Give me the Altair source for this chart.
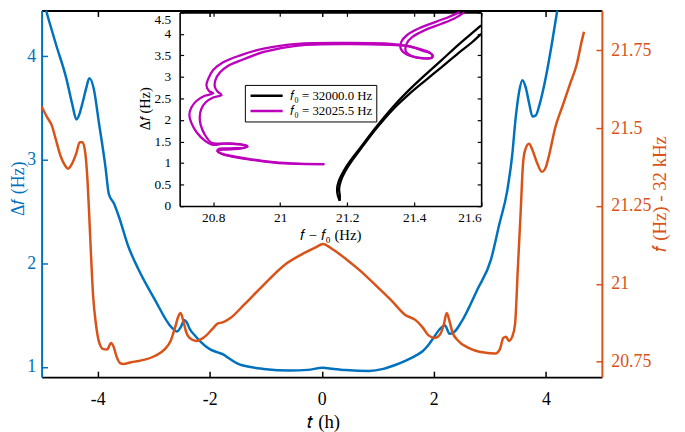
import altair as alt
import pandas as pd

# ---------------- data ----------------
t_blue = [-4.95, -4.86, -4.74, -4.56, -4.45, -4.38, -4.32, -4.27, -4.20, -4.15,
          -4.07, -3.98, -3.86, -3.80, -3.71, -3.62, -3.45, -3.27, -2.98, -2.68,
          -2.58, -2.52, -2.45, -2.40, -2.36, -2.26, -2.16, -2.00, -1.86, -1.76,
          -1.65, -1.51, -1.25, -1.04, -0.57, -0.25, 0.02, 0.20, 0.43, 0.84,
          1.10, 1.31, 1.50, 1.67, 1.80, 1.90, 2.02, 2.10, 2.20, 2.28,
          2.35, 2.49, 2.78, 3.02, 3.17, 3.31, 3.40, 3.46, 3.52, 3.58,
          3.64, 3.70, 3.76, 3.82, 3.88, 4.00, 4.10, 4.22]
df_blue = [4.50, 4.33, 4.11, 3.79, 3.53, 3.39, 3.45, 3.55, 3.70, 3.79,
           3.69, 3.37, 2.93, 2.67, 2.58, 2.45, 2.16, 1.94, 1.65, 1.38,
           1.34, 1.38, 1.45, 1.42, 1.37, 1.30, 1.24, 1.17, 1.14, 1.12,
           1.08, 1.033, 0.995, 0.979, 0.963, 0.97, 0.99, 0.98, 0.969, 0.96,
           0.98, 1.017, 1.06, 1.106, 1.15, 1.208, 1.30, 1.36, 1.40, 1.32,
           1.33, 1.431, 1.749, 2.036, 2.38, 2.70, 3.05, 3.40, 3.65, 3.77,
           3.70, 3.55, 3.42, 3.43, 3.52, 3.80, 4.10, 4.50]

t_orange = [-5.00, -4.90, -4.82, -4.74, -4.66, -4.58, -4.53, -4.46, -4.38, -4.32,
            -4.27, -4.22, -4.18, -4.15, -4.12, -4.08, -4.03, -3.97, -3.90, -3.83,
            -3.76, -3.72, -3.66, -3.60, -3.54, -3.40, -3.27, -2.98, -2.80, -2.70,
            -2.62, -2.56, -2.52, -2.47, -2.42, -2.36, -2.24, -2.10, -1.95, -1.86,
            -1.77, -1.63, -1.39, -1.04, -0.63, -0.30, -0.10, 0.02, 0.20, 0.43,
            0.70, 1.02, 1.25, 1.49, 1.67, 1.80, 1.90, 2.02, 2.12, 2.18,
            2.23, 2.28, 2.33, 2.43, 2.61, 2.90, 3.10, 3.18, 3.24, 3.29,
            3.34, 3.40, 3.45, 3.50, 3.55, 3.59, 3.63, 3.70, 3.76, 3.84,
            3.93, 4.00, 4.05, 4.17, 4.31, 4.43, 4.55, 4.64, 4.68]
f_orange = [21.57, 21.535, 21.51, 21.46, 21.41, 21.38, 21.37, 21.385, 21.42, 21.455,
            21.455, 21.42, 21.33, 21.22, 21.10, 20.96, 20.87, 20.81, 20.79, 20.789,
            20.81, 20.80, 20.765, 20.745, 20.742, 20.748, 20.752, 20.768, 20.79, 20.815,
            20.858, 20.895, 20.906, 20.88, 20.845, 20.826, 20.816, 20.828, 20.855, 20.872,
            20.876, 20.89, 20.932, 20.996, 21.065, 21.10, 21.118, 21.128, 21.11, 21.08,
            21.04, 20.985, 20.945, 20.90, 20.884, 20.86, 20.835, 20.826, 20.84, 20.87,
            20.906, 20.88, 20.845, 20.818, 20.795, 20.779, 20.776, 20.79, 20.826, 20.83,
            20.816, 20.83, 20.87, 21.05, 21.23, 21.38, 21.43, 21.45, 21.43, 21.39,
            21.36, 21.375, 21.408, 21.504, 21.578, 21.642, 21.705, 21.78, 21.81]

# inset: f0 = 32000.0 Hz (two strands)
black_a_fx = [21.178, 21.172, 21.170, 21.176, 21.190, 21.206, 21.236, 21.285, 21.334,
              21.383, 21.432, 21.482, 21.531, 21.570, 21.600]
black_a_df = [0.12, 0.25, 0.40, 0.60, 0.82, 1.01, 1.32, 1.82, 2.28,
              2.68, 3.04, 3.39, 3.74, 4.00, 4.20]
black_b_fx = [21.178, 21.178, 21.176, 21.182, 21.194, 21.210, 21.238, 21.287, 21.336,
              21.385, 21.434, 21.484, 21.533, 21.572, 21.600]
black_b_df = [0.12, 0.25, 0.40, 0.60, 0.80, 1.00, 1.30, 1.80, 2.24,
              2.60, 2.92, 3.24, 3.56, 3.80, 4.00]

# inset: f0 = 32025.5 Hz (outbound and return strands)
mag_a_fx = [21.535, 21.505, 21.465, 21.415, 21.380, 21.362, 21.360, 21.378, 21.420, 21.452,
            21.455, 21.425, 21.385, 21.330, 21.203, 21.052, 20.951, 20.881, 20.830, 20.800,
            20.785, 20.780, 20.788, 20.800, 20.775, 20.750, 20.735, 20.729, 20.735, 20.750,
            20.775, 20.800, 20.830, 20.880, 20.903, 20.880, 20.830, 20.812, 20.830, 20.850,
            20.901, 20.981, 21.052, 21.132]
mag_a_df = [4.50, 4.40, 4.28, 4.13, 3.98, 3.82, 3.66, 3.52, 3.44, 3.44,
            3.51, 3.61, 3.71, 3.77, 3.79, 3.77, 3.66, 3.50, 3.34, 3.16,
            2.95, 2.80, 2.67, 2.62, 2.56, 2.44, 2.29, 2.12, 1.93, 1.72,
            1.52, 1.42, 1.45, 1.43, 1.38, 1.33, 1.31, 1.28, 1.20, 1.16,
            1.09, 1.01, 0.98, 0.975]
mag_b_fx = [21.132, 21.052, 20.981, 20.901, 20.850, 20.815, 20.815, 20.850, 20.895, 20.900,
            20.870, 20.825, 20.795, 20.775, 20.763, 20.760, 20.765, 20.778, 20.800, 20.825,
            20.813, 20.805, 20.807, 20.820, 20.845, 20.891, 20.951, 21.052, 21.203, 21.330,
            21.380, 21.420, 21.448, 21.455, 21.430, 21.395, 21.375, 21.378, 21.395, 21.430,
            21.480, 21.520, 21.550]
mag_b_df = [0.975, 0.985, 1.02, 1.10, 1.17, 1.25, 1.32, 1.34, 1.36, 1.40,
            1.44, 1.45, 1.47, 1.66, 1.88, 2.08, 2.26, 2.41, 2.52, 2.58,
            2.66, 2.77, 2.93, 3.10, 3.26, 3.41, 3.58, 3.73, 3.765, 3.745,
            3.72, 3.64, 3.56, 3.47, 3.43, 3.48, 3.60, 3.78, 3.93, 4.08,
            4.23, 4.36, 4.50]

legend_labels = ["\U0001D453\u2080 = 32000.0 Hz", "\U0001D453\u2080 = 32025.5 Hz"]

x_ticks = [-4, -2, 0, 2, 4]
left_ticks = [1, 2, 3, 4]
right_ticks = [20.75, 21, 21.25, 21.5, 21.75]
inset_x_ticks = [20.8, 21, 21.2, 21.4, 21.6]
inset_y_ticks = [0, 0.5, 1, 1.5, 2, 2.5, 3, 3.5, 4, 4.5]

# ---------------- styling ----------------
W, H = 567, 371
BLUE = "#0072BD"
ORANGE = "#D95319"
MAG = "#BC00BC"
FONT = "Liberation Serif"
IN_X = [139.7, 444.8]   # inset horizontal range inside the plot area
IN_Y = [197.8, 1.9]     # inset vertical range inside the plot area
LBL = "datum.value + ''"
TXT = dict(labelFont=FONT, titleFont=FONT, titleFontWeight="normal",
           labelFontWeight="normal", grid=False)

main_df_blue = pd.DataFrame({"t": t_blue, "v": df_blue})
main_df_orange = pd.DataFrame({"t": t_orange, "f": f_orange})

rows = []
for name, strand, fxs, dfs in [
    (legend_labels[0], "ba", black_a_fx, black_a_df),
    (legend_labels[0], "bb", black_b_fx, black_b_df),
    (legend_labels[1], "ma", mag_a_fx, mag_a_df),
    (legend_labels[1], "mb", mag_b_fx, mag_b_df),
]:
    for i, (a, b) in enumerate(zip(fxs, dfs)):
        rows.append({"fx": a, "df": b, "series": name, "strand": strand, "ord": i})
inset_data = pd.DataFrame(rows)

blue = alt.Chart(main_df_blue).mark_line(
    color=BLUE, strokeWidth=2.5, clip=True, interpolate="monotone"
).encode(
    x=alt.X("t:Q", scale=alt.Scale(domain=[-5, 5], nice=False, zero=False),
            axis=alt.Axis(orient="bottom", values=x_ticks, labelExpr=LBL,
                          title="\U0001D461 (h)", titleFontSize=19, titleX=285, titleY=45,
                          titleBaseline="middle", titleAlign="center",
                          tickSize={"expr": "-6"}, tickWidth=1.5, tickColor="black",
                          domainColor="black", domainWidth=2, labelColor="black",
                          labelFontSize=18, labelPadding=20, **TXT)),
    y=alt.Y("v:Q", scale=alt.Scale(domain=[0.9, 4.4435], nice=False, zero=False),
            axis=alt.Axis(orient="left", values=left_ticks, labelExpr=LBL,
                          title="\u0394\U0001D453 (Hz)", titleFontSize=18, titleColor=BLUE,
                          titleAngle=270, titleX=-23, titleY=180, titleBaseline="middle",
                          titleAlign="center",
                          tickSize={"expr": "-6"}, tickWidth=1.5, tickColor=BLUE,
                          domainColor=BLUE, domainWidth=2, labelColor=BLUE,
                          labelFontSize=18, labelPadding=12, **TXT)),
)

orange = alt.Chart(main_df_orange).mark_line(
    color=ORANGE, strokeWidth=2.5, clip=True, interpolate="monotone"
).encode(
    x=alt.X("t:Q", scale=alt.Scale(domain=[-5, 5], nice=False, zero=False),
            axis=alt.Axis(orient="top", values=x_ticks, labels=False, title=None,
                          tickSize={"expr": "-6"}, tickWidth=1.5, tickColor="black",
                          domainColor="black", domainWidth=2, **TXT)),
    y=alt.Y("f:Q", scale=alt.Scale(domain=[20.7, 21.8785], nice=False, zero=False),
            axis=alt.Axis(orient="right", values=right_ticks, labelExpr=LBL,
                          title="\U0001D453 (Hz) - 32 kHz", titleFontSize=19, titleColor=ORANGE,
                          titleAngle=270, titleX=58, titleY=185, titleBaseline="middle",
                          titleAlign="center",
                          tickSize={"expr": "-6"}, tickWidth=1.5, tickColor=ORANGE,
                          domainColor=ORANGE, domainWidth=2, labelColor=ORANGE,
                          labelFontSize=18, labelPadding=15, **TXT)),
)

inset = alt.Chart(inset_data).mark_line(
    strokeWidth=2.3, interpolate="catmull-rom"
).encode(
    x=alt.X("fx:Q", scale=alt.Scale(domain=[20.7, 21.6], range=IN_X, nice=False, zero=False),
            axis=alt.Axis(orient="bottom", offset=-(H - IN_Y[0]), values=inset_x_ticks,
                          labelExpr=LBL, title="\U0001D453 \u2212 \U0001D453\u2080 (Hz)",
                          titleFontSize=15, titleX=292, titleY=29, titleBaseline="middle",
                          titleAlign="center",
                          tickSize={"expr": "-4"}, tickWidth=1.2, tickColor="black",
                          domainColor="black", domainWidth=1.6, labelColor="black",
                          labelFontSize=13.5, labelPadding=9, **TXT)),
    y=alt.Y("df:Q", scale=alt.Scale(domain=[0, 4.5], range=IN_Y, nice=False, zero=False),
            axis=alt.Axis(orient="left", offset=-IN_X[0], values=inset_y_ticks,
                          labelExpr=LBL, title="\u0394\U0001D453 (Hz)", titleFontSize=14.5,
                          titleAngle=270, titleX=-35, titleY=99, titleBaseline="middle",
                          titleAlign="center",
                          labelBaseline={"condition": {"test": "datum.value == 4.5",
                                                       "value": "top"},
                                         "value": "middle"},
                          tickSize={"expr": "-4"}, tickWidth=1.2, tickColor="black",
                          domainColor="black", domainWidth=1.6, labelColor="black",
                          labelFontSize=13.5, labelPadding=13, **TXT)),
    color=alt.Color("series:N", scale=alt.Scale(domain=legend_labels, range=["black", MAG]),
                    legend=alt.Legend(orient="none", legendX=205.7, legendY=75.3, title=None,
                                      direction="vertical", strokeColor="black",
                                      fillColor="white", padding=3, rowPadding=0.3,
                                      symbolType="M-2.5,0H2.5", symbolSize=169,
                                      symbolStrokeWidth=2.5, symbolOffset=11,
                                      labelOffset=16, labelFont=FONT, labelFontSize=13,
                                      labelColor="black")),
    detail="strand:N",
    order="ord:Q",
)

inset_frame = alt.Chart(inset_data).mark_line(strokeOpacity=0).encode(
    x=alt.X("fx:Q", scale=alt.Scale(domain=[20.7, 21.6], range=IN_X, nice=False, zero=False),
            axis=alt.Axis(orient="top", offset=-IN_Y[1], values=inset_x_ticks, labels=False,
                          title=None, tickSize={"expr": "-4"}, tickWidth=1.2, tickColor="black",
                          domainColor="black", domainWidth=1.6, **TXT)),
    y=alt.Y("df:Q", scale=alt.Scale(domain=[0, 4.5], range=IN_Y, nice=False, zero=False),
            axis=alt.Axis(orient="right", offset=-(W - IN_X[1]), values=inset_y_ticks,
                          labels=False, title=None, tickSize={"expr": "-4"}, tickWidth=1.2,
                          tickColor="black", domainColor="black", domainWidth=1.6, **TXT)),
    detail="strand:N",
    order="ord:Q",
)

chart = alt.layer(blue, orange, inset, inset_frame).resolve_scale(
    x="independent", y="independent", color="independent"
).properties(
    width=W, height=H,
    autosize=alt.AutoSizeParams(type="none"),
    padding={"left": 34, "top": 0, "right": 76, "bottom": 53},
).configure_view(stroke=None).configure_axis(
    grid=False, labelFont=FONT, titleFont=FONT, titleFontWeight="normal",
)

chart.save("out.html", embed_options={"renderer": "svg", "actions": False})
